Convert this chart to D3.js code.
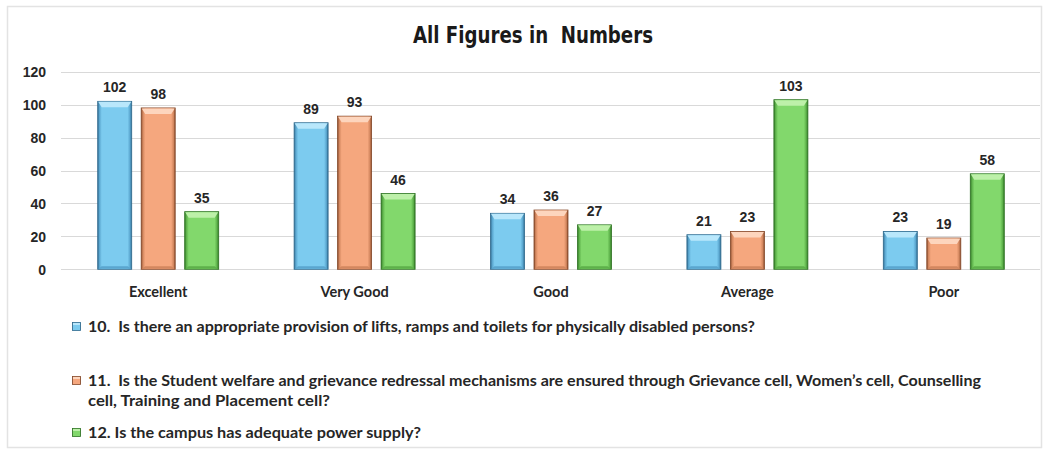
<!DOCTYPE html>
<html>
<head>
<meta charset="utf-8">
<script src="https://cdn.jsdelivr.net/npm/d3@7"></script>
<style>
  html, body { margin: 0; padding: 0; background: #ffffff; }
  svg { display: block; }
</style>
</head>
<body>
<svg id="chart" width="1044" height="451"></svg>
<script>
const categories = ["Excellent", "Very Good", "Good", "Average", "Poor"];
const seriesNames = [
  "10.\u00a0 Is there an appropriate provision of lifts, ramps and toilets for physically disabled persons?",
  "11.\u00a0 Is the Student welfare and grievance redressal mechanisms are ensured through Grievance cell, Women\u2019s cell, Counselling",
  "12. Is the campus has adequate power supply?"
];
const seriesNameCont = ["", "cell, Training and Placement cell?", ""];
const q10 = [102, 89, 34, 21, 23];
const q11 = [98, 93, 36, 23, 19];
const q12 = [35, 46, 27, 103, 58];
const yTicks = [0, 20, 40, 60, 80, 100, 120];
const titleText = "All Figures in  Numbers";

const seriesValues = [q10, q11, q12];
const palette = [
  { main: "#7ccbef", light: "#b9e7fb", mid: "#5aa6cf", dark: "#2f6a8e" },
  { main: "#f5a77e", light: "#fdd5bd", mid: "#d3875f", dark: "#86492a" },
  { main: "#82d86c", light: "#bdf0a9", mid: "#5db14a", dark: "#2f7424" }
];

const svg = d3.select("#chart");

// outer frame
svg.append("rect").attr("x", 7.5).attr("y", 6.5).attr("width", 1034).attr("height", 441)
  .attr("fill", "#ffffff").attr("stroke", "#e3e3e3").attr("stroke-width", 1.5);

const defs = svg.append("defs");
palette.forEach((c, i) => {
  const g = defs.append("linearGradient").attr("id", "grad" + i)
    .attr("x1", "0%").attr("x2", "100%").attr("y1", "0%").attr("y2", "0%");
  g.append("stop").attr("offset", "0%").attr("stop-color", c.dark);
  g.append("stop").attr("offset", "5%").attr("stop-color", c.mid);
  g.append("stop").attr("offset", "12%").attr("stop-color", c.main);
  g.append("stop").attr("offset", "88%").attr("stop-color", c.main);
  g.append("stop").attr("offset", "95%").attr("stop-color", c.mid);
  g.append("stop").attr("offset", "100%").attr("stop-color", c.dark);
});

const plot = { left: 60, right: 1042, top: 71.7, bottom: 269.3 };

const y = d3.scaleLinear().domain([0, 120]).range([plot.bottom, plot.top]);
const x0 = d3.scaleBand().domain(categories).range([plot.left, plot.right]).padding(0);
const groupW = 121;
const x1 = d3.scaleBand().domain(d3.range(seriesValues.length))
  .range([(x0.bandwidth() - groupW) / 2, (x0.bandwidth() + groupW) / 2])
  .paddingInner(0.218).paddingOuter(0);

// gridlines
svg.append("g").selectAll("line").data(yTicks).join("line")
  .attr("x1", 61).attr("x2", 1040)
  .attr("y1", d => Math.round(y(d)) + 0.5).attr("y2", d => Math.round(y(d)) + 0.5)
  .attr("stroke", "#d9d9d9").attr("stroke-width", 1);

// y axis labels
const yAxis = d3.axisLeft(y).tickValues(yTicks).tickSize(0).tickPadding(0);
const yg = svg.append("g").attr("transform", "translate(46,0)").call(yAxis);
yg.select(".domain").remove();
yg.selectAll("text")
  .attr("font-family", "'Liberation Sans', Arial, sans-serif")
  .attr("font-weight", "bold").attr("font-size", 14).attr("fill", "#262626")
  .attr("dy", "0.36em");

// bars
const groups = svg.append("g").selectAll("g").data(categories).join("g")
  .attr("transform", d => `translate(${x0(d)},0)`);

groups.each(function(cat, ci) {
  const g = d3.select(this);
  seriesValues.forEach((vals, si) => {
    const v = vals[ci];
    const bx = x1(si), bw = x1.bandwidth();
    const by = y(v), bh = y(0) - y(v);
    const c = palette[si];
    g.append("rect").attr("x", bx).attr("y", by).attr("width", bw).attr("height", bh)
      .attr("fill", `url(#grad${si})`).attr("stroke", c.dark).attr("stroke-width", 0.8);
    const bev = Math.min(6, bh / 2);
    g.append("polygon")
      .attr("points", [[bx + 0.5, by + 0.5], [bx + bw - 0.5, by + 0.5], [bx + bw - 4, by + bev], [bx + 4, by + bev]].map(p => p.join(",")).join(" "))
      .attr("fill", c.light);
    g.append("polygon")
      .attr("points", [[bx + 0.5, y(0) - 0.5], [bx + bw - 0.5, y(0) - 0.5], [bx + bw - 4, y(0) - 3], [bx + 4, y(0) - 3]].map(p => p.join(",")).join(" "))
      .attr("fill", c.mid);
    g.append("text").attr("x", bx + bw / 2).attr("y", by - 9)
      .attr("text-anchor", "middle")
      .attr("font-family", "'Liberation Sans', Arial, sans-serif")
      .attr("font-weight", "bold").attr("font-size", 14).attr("fill", "#262626")
      .text(v);
  });
});

// x axis labels
const xAxis = d3.axisBottom(x0).tickSize(0).tickPadding(0);
const xg = svg.append("g").attr("transform", `translate(0,${plot.bottom + 28})`).call(xAxis);
xg.select(".domain").remove();
xg.selectAll("text")
  .attr("font-family", "Lato, 'Open Sans', sans-serif")
  .attr("font-weight", "bold").attr("font-size", 14.5).attr("fill", "#262626")
  .attr("dy", 0);

// title
svg.append("text").attr("x", 533).attr("y", 43).attr("text-anchor", "middle")
  .attr("font-family", "'Liberation Sans Narrow', 'DejaVu Sans Condensed', sans-serif")
  .attr("font-weight", "bold").attr("font-size", 23).attr("fill", "#1a1a1a")
  .attr("textLength", 240).attr("lengthAdjust", "spacingAndGlyphs")
  .style("white-space", "pre")
  .text(titleText);

// legend
const legendY = [332, 386, 438];
const legendLen = [667, 893, 333];
const leg = svg.append("g");
seriesNames.forEach((name, i) => {
  const c = palette[i];
  const ly = legendY[i];
  leg.append("rect").attr("x", 72.5).attr("y", ly - 9.5).attr("width", 8).attr("height", 8)
    .attr("fill", `url(#grad${i})`).attr("stroke", c.dark).attr("stroke-width", 0.8);
  leg.append("rect").attr("x", 73).attr("y", ly - 9).attr("width", 7).attr("height", 2).attr("fill", c.light);
  leg.append("text").attr("x", 88).attr("y", ly)
    .attr("font-family", "Lato, 'Open Sans', sans-serif")
    .attr("font-weight", "bold").attr("font-size", 14.5).attr("fill", "#262626")
    .attr("textLength", legendLen[i]).attr("lengthAdjust", "spacingAndGlyphs")
    .text(name);
  if (seriesNameCont[i]) {
    leg.append("text").attr("x", 88).attr("y", ly + 20)
      .attr("font-family", "Lato, 'Open Sans', sans-serif")
      .attr("font-weight", "bold").attr("font-size", 14.5).attr("fill", "#262626")
      .attr("textLength", 242).attr("lengthAdjust", "spacingAndGlyphs")
      .text(seriesNameCont[i]);
  }
});
</script>
</body>
</html>
